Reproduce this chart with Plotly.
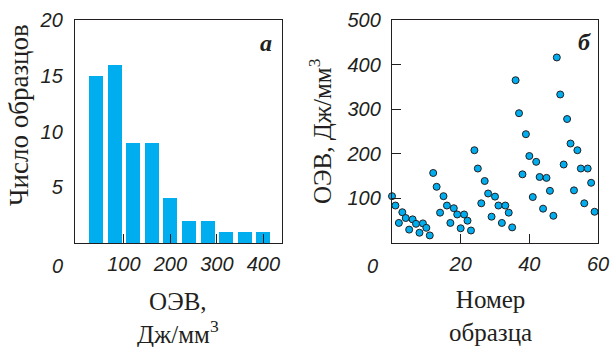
import plotly.graph_objects as go

# Panel a: histogram of OEV (J/mm^3)
bin_centers = [40, 80, 120, 160, 200, 240, 280, 320, 360, 400]
counts = [15, 16, 9, 9, 4, 2, 2, 1, 1, 1]
hist_xticks = [100, 200, 300, 400]
hist_yticks = [5, 10, 15, 20]

# Panel b: OEV per sample
sample_no = list(range(60))
oev = [105, 84, 45, 69, 56, 30, 53, 43, 23, 44, 34, 17,
       157, 126, 68, 105, 84, 45, 78, 64, 33, 64, 50, 28,
       208, 167, 89, 139, 111, 59, 104, 84, 45, 84, 68, 35,
       365, 291, 154, 244, 195, 103, 182, 148, 77, 146, 117, 61,
       416, 333, 176, 278, 223, 118, 208, 167, 89, 167, 135, 70]
scat_xticks = [20, 40, 60]
scat_yticks = [100, 200, 300, 400, 500]

W, H = 610, 347
BLUE = "#00AEEF"
INK = "#231f20"

def px(x):
    return x / W

def py(y):
    return 1 - y / H

fig = go.Figure()
fig.add_trace(go.Bar(x=bin_centers, y=counts, width=30, marker=dict(color=BLUE, line=dict(width=0)),
                     xaxis="x", yaxis="y", showlegend=False))
fig.add_trace(go.Scatter(x=sample_no, y=oev, mode="markers", cliponaxis=False,
                         marker=dict(color=BLUE, size=7, line=dict(color=INK, width=1)),
                         xaxis="x2", yaxis="y2", showlegend=False))

tickfont = dict(family="Liberation Sans", size=20, style="italic", color=INK)
common = dict(showline=True, mirror=True, linecolor=INK, linewidth=1.3, showgrid=False,
              zeroline=False, tickfont=tickfont, tickcolor=INK, tickwidth=1.3,
              automargin=False)

ydom = [py(243), py(20)]
fig.update_layout(
    width=W, height=H, margin=dict(l=0, r=0, t=0, b=0, autoexpand=False),
    plot_bgcolor="white", paper_bgcolor="white", bargap=0,
    xaxis=dict(domain=[px(75), px(282)], range=[-5, 440], tickvals=hist_xticks,
               ticks="inside", ticklen=9, ticklabelstandoff=3, anchor="y", **common),
    yaxis=dict(domain=ydom, range=[0, 20], tickvals=hist_yticks, ticks="",
               ticklabelstandoff=7, anchor="x", **common),
    xaxis2=dict(domain=[px(392), px(598)], range=[0, 60], tickvals=scat_xticks,
                ticks="inside", ticklen=9, ticklabelstandoff=3, anchor="y2", **common),
    yaxis2=dict(domain=ydom, range=[0, 500], tickvals=scat_yticks, ticks="inside", ticklen=9,
                ticklabelstandoff=6, anchor="x2", **common),
)

serif = dict(family="Liberation Serif", size=25, color=INK)
ann = [
    dict(text="0", x=px(57), y=py(266), font=tickfont),
    dict(text="0", x=px(373), y=py(266), font=tickfont),
    dict(text="Число образцов", x=px(19), y=py(115), textangle=-90,
         font=dict(family="Liberation Serif", size=27, color=INK)),
    dict(text="ОЭВ,<br>Дж/мм<sup>3</sup>", x=px(178), y=py(318), font=serif),
    dict(text="ОЭВ, Дж/мм<sup>3</sup>", x=px(320), y=py(131), textangle=-90, font=serif),
    dict(text="Номер<br>образца", x=px(490), y=py(316), font=serif),
    dict(text="а", x=px(266), y=py(43),
         font=dict(family="Liberation Serif", size=24, style="italic", weight="bold", color=INK)),
    dict(text="б", x=px(584), y=py(42),
         font=dict(family="Liberation Serif", size=24, style="italic", weight="bold", color=INK)),
]
for a in ann:
    a.update(xref="paper", yref="paper", showarrow=False, xanchor="center", yanchor="middle")
fig.update_layout(annotations=ann)

fig.write_html("out.html")
